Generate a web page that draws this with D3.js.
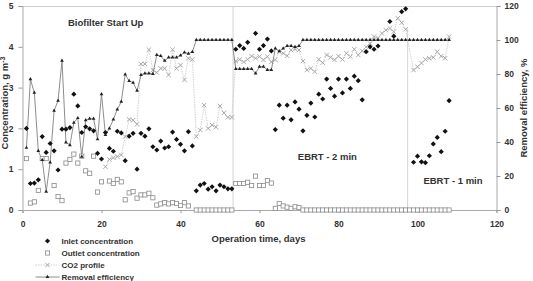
<!DOCTYPE html>
<html>
<head>
<meta charset="utf-8">
<script src="https://cdn.jsdelivr.net/npm/d3@7"></script>
<style>
  body { margin: 0; background: #fff; }
  text { font-family: "Liberation Sans", Arial, sans-serif; font-weight: bold; fill: #333; }
</style>
</head>
<body>
<div id="chart-area"></div>
<script>
// [day, g/m3]
var inlet = [
  [1, 2.00], [2, 0.65], [3, 0.66], [4, 0.74], [5, 1.80], [6, 1.41], [7, 1.63], [8, 1.45],
  [9, 0.98], [10, 1.98], [11, 1.98], [12, 2.02], [13, 2.84], [14, 2.55], [15, 1.90], [16, 2.04],
  [17, 1.99], [18, 1.94], [19, 1.39], [20, 1.25], [21, 1.90], [22, 1.51], [23, 1.44], [24, 1.93],
  [25, 1.89], [26, 1.21], [27, 1.81], [28, 1.88], [29, 1.00], [30, 1.88], [31, 1.81], [32, 1.99],
  [33, 1.55], [34, 1.47], [35, 1.69], [36, 1.52], [37, 1.55], [38, 1.91], [39, 1.73], [40, 1.61],
  [41, 1.45], [42, 1.92], [43, 1.57],
  [44, 0.47], [45, 0.61], [46, 0.65], [47, 0.51], [48, 0.57], [49, 0.47], [50, 0.61], [51, 0.57],
  [52, 0.52], [53, 0.52],
  [54, 3.94], [55, 4.03], [56, 3.96], [57, 4.11], [59, 4.33], [60, 3.94], [61, 4.03], [62, 4.19],
  [63, 3.90],
  [64, 1.97], [65, 2.57], [66, 2.25], [67, 2.57], [68, 2.21], [69, 2.65], [70, 2.47], [71, 1.94],
  [72, 2.32], [73, 2.62], [74, 2.28], [75, 2.84], [76, 2.72], [77, 3.21], [78, 2.98], [79, 2.79],
  [80, 3.21], [81, 2.87], [82, 3.21], [83, 2.98], [84, 3.28], [85, 3.17], [86, 2.70], [87, 3.88],
  [88, 4.00], [89, 3.94], [90, 4.02], [93, 4.62], [94, 4.26], [96, 4.86], [97, 4.93],
  [99, 1.17], [100, 1.32], [101, 1.18], [102, 1.16], [103, 1.33], [104, 1.62], [105, 1.78],
  [106, 1.43], [107, 1.93], [108, 2.68]
];

var outlet = [
  [1, 1.26], [2, 0.17], [3, 0.20], [4, 0.48], [5, 1.26], [6, 1.26], [8, 0.60], [9, 0.33],
  [10, 0.23], [11, 1.15], [12, 1.24], [13, 1.37], [14, 1.15], [15, 1.32], [16, 0.96], [17, 0.90],
  [18, 1.32], [19, 0.44], [20, 0.69], [22, 0.71], [23, 0.65], [24, 0.75], [25, 0.69], [26, 0.25],
  [27, 0.42], [28, 0.45], [29, 0.29], [30, 0.37], [31, 0.37], [32, 0.41], [33, 0.30], [34, 0.12],
  [35, 0.15], [36, 0.18], [37, 0.15], [38, 0.18], [39, 0.16], [40, 0.11], [41, 0.18], [42, 0.10],
  [44, 0], [45, 0], [46, 0], [47, 0], [48, 0], [49, 0], [50, 0], [51, 0], [52, 0], [53, 0],
  [54, 0.65], [55, 0.65], [56, 0.65], [57, 0.68], [58, 0.60], [59, 0.83], [60, 0.60], [61, 0.60],
  [62, 0.72], [63, 0.66], [64, 0.04], [65, 0.16], [66, 0.10], [67, 0.07], [68, 0.04], [69, 0.08],
  [70, 0.06],
  [71, 0], [72, 0], [73, 0], [74, 0], [75, 0], [76, 0], [77, 0], [78, 0], [79, 0], [80, 0],
  [81, 0], [82, 0], [83, 0], [84, 0], [85, 0], [86, 0], [87, 0], [88, 0], [89, 0], [90, 0],
  [91, 0], [92, 0], [93, 0], [94, 0], [95, 0], [96, 0], [97, 0], [98, 0], [99, 0], [100, 0],
  [101, 0], [102, 0], [103, 0], [104, 0], [105, 0], [106, 0], [107, 0], [108, 0]
];

var co2 = [
  [21, 1.06], [22, 1.24], [23, 1.28], [24, 1.31], [25, 1.35], [26, 1.80], [27, 2.22], [28, 2.20],
  [29, 2.10], [30, 3.58], [31, 3.58], [32, 3.93], [33, 3.43], [34, 3.37], [35, 3.47], [36, 3.47],
  [37, 3.31], [38, 3.93], [39, 3.47], [40, 3.55], [41, 3.19], [42, 3.72], [43, 3.69],
  [44, 1.80], [45, 1.96], [46, 2.57], [47, 2.00], [48, 2.08], [49, 2.03], [50, 2.55], [51, 2.38],
  [52, 2.27], [53, 2.27],
  [54, 3.65], [55, 3.69], [56, 3.63], [57, 3.69], [58, 3.77], [59, 3.72], [60, 3.76], [61, 3.68],
  [62, 3.76], [63, 3.63], [64, 3.68], [65, 3.88], [66, 3.84], [67, 3.78], [68, 3.92], [69, 3.94],
  [70, 3.92], [71, 3.65], [72, 3.43], [73, 3.47], [74, 3.39], [75, 3.69], [76, 3.61], [77, 3.80],
  [78, 3.74], [79, 3.68], [80, 3.77], [81, 3.69], [82, 3.84], [83, 3.76], [84, 3.94], [85, 3.80],
  [86, 3.90], [87, 4.00], [88, 4.08], [89, 4.25], [90, 4.21], [91, 4.33], [92, 4.41], [93, 4.45],
  [94, 4.37], [95, 4.70], [96, 4.59], [97, 4.43],
  [99, 3.43], [100, 3.51], [101, 3.60], [102, 3.69], [103, 3.72], [104, 3.74], [105, 3.88],
  [106, 3.77], [107, 3.72], [108, 4.25]
];

// [day, %]
var removal = [
  [1, 36.6], [2, 76.9], [3, 69.0], [4, 34.7], [5, 29.4], [6, 10.8], [7, 28.0], [8, 58.4],
  [9, 64.3], [10, 87.8], [11, 39.8], [12, 38.2], [13, 51.4], [14, 54.1], [15, 31.4], [16, 52.9],
  [17, 53.7], [18, 53.7], [19, 41.6], [20, 68.2], [21, 44.1], [22, 48.0], [23, 53.3], [24, 59.2],
  [25, 63.7], [26, 79.8], [27, 75.9], [28, 74.9], [29, 70.2], [30, 79.4], [31, 80.4], [32, 80.4],
  [33, 80.0], [34, 91.2], [35, 90.6], [36, 87.8], [37, 89.8], [38, 89.8], [39, 89.8], [40, 91.0],
  [41, 92.7], [42, 92.0], [43, 93.0],
  [44, 100], [45, 100], [46, 100], [47, 100], [48, 100], [49, 100], [50, 100], [51, 100],
  [52, 100], [53, 100],
  [54, 83.0], [55, 83.0], [56, 83.0], [57, 83.0], [58, 83.0], [59, 80.4], [60, 84.3], [61, 84.3],
  [62, 82.4], [63, 82.4], [64, 95.0], [65, 93.5], [66, 95.0], [67, 96.5], [68, 96.5], [69, 96.0],
  [70, 96.5],
  [71, 100], [72, 100], [73, 100], [74, 100], [75, 100], [76, 100], [77, 100], [78, 100],
  [79, 100], [80, 100], [81, 100], [82, 100], [83, 100], [84, 100], [85, 100], [86, 100],
  [87, 100], [88, 100], [89, 100], [90, 100], [91, 100], [92, 100], [93, 100], [94, 100],
  [95, 100], [96, 100], [97, 100], [98, 100], [99, 100], [100, 100], [101, 100], [102, 100],
  [103, 100], [104, 100], [105, 100], [106, 100], [107, 100], [108, 100]
];

// phase boundaries [day, top concentration]
var phaseLines = [[53.3, 5], [97.5, 4.45]];

var notes = [
  { text: "Biofilter Start Up", day: 11.5, conc: 4.5 },
  { text: "EBRT - 2 min", day: 69.7, conc: 1.22 },
  { text: "EBRT - 1 min", day: 101.5, conc: 0.64 }
];

var xTicks = [0, 20, 40, 60, 80, 100, 120];
var yLeftTicks = [0, 1, 2, 3, 4, 5];
var yRightTicks = [0, 20, 40, 60, 80, 100, 120];

var margin = { left: 22.5, right: 36.5, top: 6, bottom: 71 };
var width = 533 - margin.left - margin.right;
var height = 281 - margin.top - margin.bottom;

var svg = d3.select("#chart-area")
  .append("svg")
  .attr("width", 533)
  .attr("height", 281);

var g = svg.append("g")
  .attr("transform", "translate(" + margin.left + "," + margin.top + ")");

var x = d3.scaleLinear().domain([0, 120]).range([0, width]);
var yL = d3.scaleLinear().domain([0, 5]).range([height, 0]);
var yR = d3.scaleLinear().domain([0, 120]).range([height, 0]);

var fmt = d3.format("d");

// Top frame line
g.append("line")
  .attr("x1", 0).attr("x2", width)
  .attr("y1", 0.5).attr("y2", 0.5)
  .attr("stroke", "#ccc");

// Axes
var xAxis = g.append("g")
  .attr("transform", "translate(0," + height + ")")
  .call(d3.axisBottom(x).tickValues(xTicks).tickFormat(fmt).tickSize(3).tickPadding(8));

var yAxisL = g.append("g")
  .call(d3.axisLeft(yL).tickValues(yLeftTicks).tickFormat(fmt).tickSize(4).tickPadding(5));

var yAxisR = g.append("g")
  .attr("transform", "translate(" + width + ",0)")
  .call(d3.axisRight(yR).tickValues(yRightTicks).tickFormat(fmt).tickSize(4).tickPadding(4));

[xAxis, yAxisL, yAxisR].forEach(function(a) {
  a.select(".domain").attr("stroke", "#aaa");
  a.selectAll(".tick line").attr("stroke", "#999");
  a.selectAll("text")
    .attr("font-size", "8.5px")
    .attr("font-weight", "bold")
    .attr("fill", "#333")
    .attr("font-family", "Liberation Sans, Arial, sans-serif");
});

// Phase lines
g.selectAll(".phase")
  .data(phaseLines)
  .enter()
  .append("line")
  .attr("x1", function(d) { return x(d[0]); })
  .attr("x2", function(d) { return x(d[0]); })
  .attr("y1", function(d) { return yL(d[1]); })
  .attr("y2", height)
  .attr("stroke", "#d4d4d4")
  .attr("stroke-width", 1);

// CO2 profile
var co2Line = d3.line()
  .x(function(d) { return x(d[0]); })
  .y(function(d) { return yL(d[1]); });

g.append("path")
  .datum(co2)
  .attr("d", co2Line)
  .attr("fill", "none")
  .attr("stroke", "#c4c4c4")
  .attr("stroke-width", 0.8)
  .attr("stroke-dasharray", "1.5,1");

var cross = "M-2.2,-2.2L2.2,2.2M-2.2,2.2L2.2,-2.2";

g.selectAll(".co2")
  .data(co2)
  .enter()
  .append("path")
  .attr("d", cross)
  .attr("transform", function(d) { return "translate(" + x(d[0]) + "," + yL(d[1]) + ")"; })
  .attr("fill", "none")
  .attr("stroke", "#a0a0a0")
  .attr("stroke-width", 0.9);

// Removal efficiency line
var remLine = d3.line()
  .x(function(d) { return x(d[0]); })
  .y(function(d) { return yR(d[1]); });

g.append("path")
  .datum(removal)
  .attr("d", remLine)
  .attr("fill", "none")
  .attr("stroke", "#808080")
  .attr("stroke-width", 0.9);

// Outlet squares
g.selectAll(".outlet")
  .data(outlet)
  .enter()
  .append("rect")
  .attr("x", function(d) { return x(d[0]) - 2.1; })
  .attr("y", function(d) { return yL(d[1]) - 2.1; })
  .attr("width", 4.2)
  .attr("height", 4.2)
  .attr("fill", "#fff")
  .attr("stroke", "#8a8a8a")
  .attr("stroke-width", 0.8);

// Removal markers
var tri = d3.symbol().type(d3.symbolTriangle).size(6);

g.selectAll(".rem")
  .data(removal)
  .enter()
  .append("path")
  .attr("d", tri)
  .attr("transform", function(d) { return "translate(" + x(d[0]) + "," + yR(d[1]) + ")"; })
  .attr("fill", "#222");

// Inlet diamonds
var diamond = "M0,-2.6L2.6,0L0,2.6L-2.6,0Z";

g.selectAll(".inlet")
  .data(inlet)
  .enter()
  .append("path")
  .attr("d", diamond)
  .attr("transform", function(d) { return "translate(" + x(d[0]) + "," + yL(d[1]) + ")"; })
  .attr("fill", "#111");

// Notes
g.selectAll(".note")
  .data(notes)
  .enter()
  .append("text")
  .attr("x", function(d) { return x(d.day); })
  .attr("y", function(d) { return yL(d.conc); })
  .attr("font-size", "9.5px")
  .text(function(d) { return d.text; });

// Axis labels
g.append("text")
  .attr("x", width / 2 - 1)
  .attr("y", height + 32)
  .attr("text-anchor", "middle")
  .attr("font-size", "9.5px")
  .text("Operation time, days");

var yLab = svg.append("text")
  .attr("transform", "translate(8,103) rotate(-90)")
  .attr("text-anchor", "middle")
  .attr("font-size", "9.5px");
yLab.append("tspan").text("Concentration, g m");
yLab.append("tspan").attr("dy", "-3").attr("font-size", "7px").text("-3");

svg.append("text")
  .attr("transform", "translate(527,108) rotate(-90)")
  .attr("text-anchor", "middle")
  .attr("font-size", "9.5px")
  .text("Removal efficiency, %");

// Legend
var legend = svg.append("g").attr("transform", "translate(47.5,241)");
var items = ["Inlet concentration", "Outlet concentration", "CO2 profile", "Removal efficiency"];

items.forEach(function(name, i) {
  var row = legend.append("g").attr("transform", "translate(0," + (i * 12) + ")");
  row.append("text")
    .attr("x", 14)
    .attr("y", 3)
    .attr("font-size", "8px")
    .text(name);
  if (i === 0) {
    row.append("path").attr("d", diamond).attr("fill", "#111");
  } else if (i === 1) {
    row.append("rect").attr("x", -2.1).attr("y", -2.1).attr("width", 4.2).attr("height", 4.2)
      .attr("fill", "#fff").attr("stroke", "#8a8a8a").attr("stroke-width", 0.8);
  } else if (i === 2) {
    row.append("line").attr("x1", -12).attr("x2", 11).attr("stroke", "#c4c4c4")
      .attr("stroke-width", 0.8).attr("stroke-dasharray", "1.5,1");
    row.append("path").attr("d", cross).attr("fill", "none")
      .attr("stroke", "#a0a0a0").attr("stroke-width", 0.9);
  } else {
    row.append("line").attr("x1", -12).attr("x2", 12).attr("stroke", "#808080").attr("stroke-width", 0.9);
    row.append("path").attr("d", tri).attr("fill", "#222");
  }
});
</script>
</body>
</html>
